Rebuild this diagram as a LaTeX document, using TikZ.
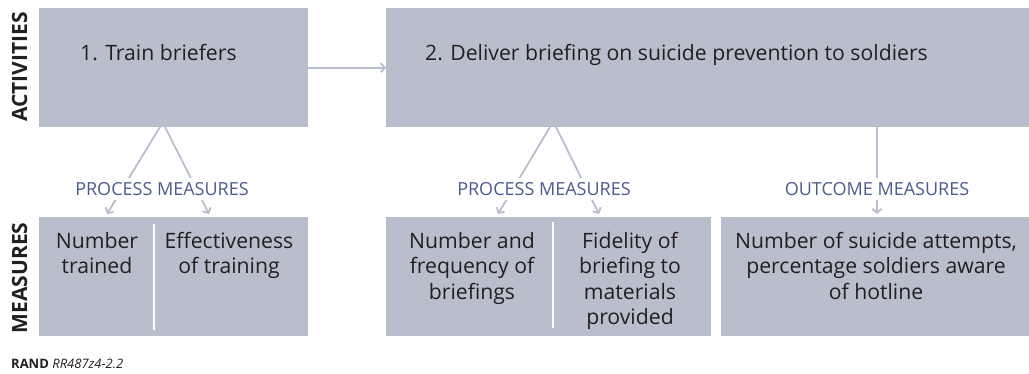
\documentclass[tikz,border=0pt]{standalone}
\usepackage{fontspec}
\setmainfont{Open Sans}
\usetikzlibrary{arrows.meta}
\definecolor{boxfill}{HTML}{B8BECC}
\definecolor{linec}{HTML}{B8BECD}
\definecolor{labc}{HTML}{4E5B8D}
\definecolor{txt}{HTML}{231F20}
\begin{document}
\begin{tikzpicture}[x=1pt,y=-1pt,
  box/.style={fill=boxfill, draw=none, inner sep=0pt, anchor=north west},
  maintext/.style={font=\fontsize{21.2}{25.5}\selectfont, text=txt, inner sep=0pt},
  mtext/.style={font=\fontsize{21.2}{25.5}\selectfont, text=txt, inner sep=0pt, align=center, anchor=north},
  lab/.style={font=\fontsize{18}{20}\selectfont, text=labc, fill=white, inner xsep=2pt, inner ysep=5pt, text height=12pt, text depth=0pt, anchor=base},
  conn/.style={draw=linec, line width=1.8pt, -{Straight Barb[length=4pt,width=9pt]}},
  side/.style={font=\fontsize{21}{22}\selectfont\bfseries, text=txt, inner sep=0pt, rotate=90},
  divider/.style={draw=white, line width=1.3pt}
]
\useasboundingbox (0,0) rectangle (1029,373);

% boxes
\node[box, minimum width=269pt, minimum height=119pt] (a1) at (39,8) {};
\node[box, minimum width=643pt, minimum height=119pt] (a2) at (386,8) {};
\node[box, minimum width=269pt, minimum height=119pt] (m1) at (39,217) {};
\node[box, minimum width=325pt, minimum height=119pt] (m2) at (386,217) {};
\node[box, minimum width=308pt, minimum height=119pt] (m3) at (721,217) {};

% dividers
\draw[divider] (m1.north west) ++(115,7) -- ++(0,106);
\draw[divider] (m2.north west) ++(167,5) -- ++(0,106);

% side labels
\node[side] (act) at (19.5,67) {ACTIVITIES};
\node[side] (mea) at (19.5,278) {MEASURES};

% activity texts
\node[maintext, anchor=base west] (t1) at (80,60) {1. Train briefers};
\node[maintext, anchor=base west] (t2) at (425,60) {2. Deliver briefing on suicide prevention to soldiers};

% connectors
\draw[conn] (a1) -- (a2);

\coordinate (s1) at (160,127); \coordinate (e1) at (107,214);
\coordinate (s2) at (165,127); \coordinate (e2) at (209,214);
\coordinate (s3) at (550,127); \coordinate (e3) at (498,214);
\coordinate (s4) at (556,127); \coordinate (e4) at (599,214);
\coordinate (s5) at (877,127); \coordinate (e5) at (877,214);
\draw[conn] (s1) -- (e1);
\draw[conn] (s2) -- (e2);
\draw[conn] (s3) -- (e3);
\draw[conn] (s4) -- (e4);
\draw[conn] (s5) -- (e5);

% connector labels
\node[lab] (l1) at (162,195) {PROCESS MEASURES};
\node[lab] (l2) at (544,195) {PROCESS MEASURES};
\node[lab] (l3) at (877,195) {OUTCOME MEASURES};

% measure texts
\node[mtext] (n1) at (97,232) {Number\\trained};
\node[mtext] (n2) at (229,232) {Effectiveness\\of training};
\node[mtext] (n3) at (472,232) {Number and\\frequency of\\briefings};
\node[mtext] (n4) at (630,232) {Fidelity of\\briefing to\\materials\\provided};
\node[mtext] (n5) at (876,232) {Number of suicide attempts,\\percentage soldiers aware\\of hotline};

% footer
\node[anchor=base west, inner sep=0pt, text=txt, font=\fontsize{13}{14}\selectfont] (rand) at (11,368) {\textbf{RAND} \textit{RR487z4-2.2}};
\end{tikzpicture}
\end{document}
